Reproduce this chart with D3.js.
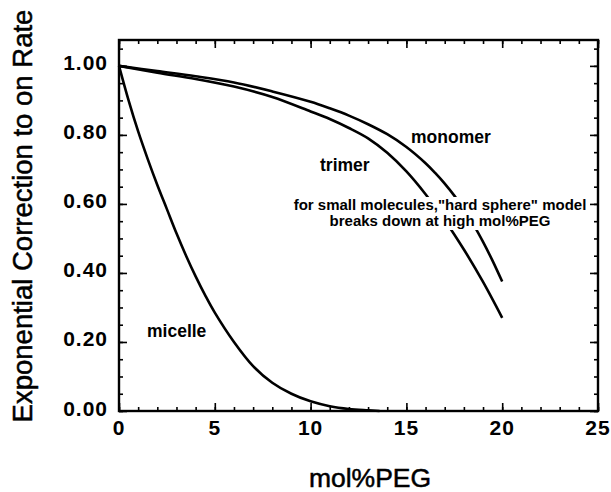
<!DOCTYPE html>
<html>
<head>
<meta charset="utf-8">
<script src="https://cdn.jsdelivr.net/npm/d3@7"></script>
<style>
  html, body { margin: 0; padding: 0; background: #fff; }
  svg { display: block; }
  text { font-family: "Liberation Sans", Arial, Helvetica, sans-serif; fill: #000; }
</style>
</head>
<body>
<svg id="chart" width="611" height="492"></svg>
<script>
// ---- data ----
const xTicks = [0, 5, 10, 15, 20, 25];
const yTicks = [0.0, 0.2, 0.4, 0.6, 0.8, 1.0];
const xMinor = d3.range(0, 25.001, 1);
const yMinor = d3.range(0, 1.0751, 0.05);

const monomerX = [0, 2, 4, 6, 8, 10, 11, 12, 13, 14, 15, 16, 16.5, 17, 17.5, 18, 18.5, 19, 19.5, 20];
const monomerY = [1.0, 0.985, 0.97, 0.952, 0.926, 0.896, 0.877, 0.856, 0.831, 0.802, 0.765, 0.718, 0.69, 0.659, 0.624, 0.584, 0.54, 0.49, 0.435, 0.375];

const trimerX = [0, 2, 4, 6, 8, 10, 11, 12, 13, 14, 15, 16, 17, 18, 19, 20];
const trimerY = [1.0, 0.98, 0.962, 0.94, 0.91, 0.868, 0.846, 0.82, 0.79, 0.748, 0.694, 0.628, 0.553, 0.468, 0.374, 0.27];

const micelleX = [0, 0.5, 1, 1.5, 2, 2.5, 3, 3.5, 4, 4.5, 5, 6, 7, 8, 9, 10, 11, 12, 13, 13.6];
const micelleY = [1.0, 0.9, 0.81, 0.73, 0.655, 0.585, 0.515, 0.45, 0.39, 0.335, 0.285, 0.2, 0.13, 0.082, 0.05, 0.028, 0.014, 0.006, 0.002, 0.0];

const seriesNames = ["monomer", "trimer", "micelle"];
const noteLines = ["for small molecules,\"hard sphere\" model", "breaks down at high mol%PEG"];
const xTitle = "mol%PEG";
const yTitle = "Exponential Correction to on Rate";

// ---- layout ----
const L = 119, R = 598, T = 40, B = 411;
const x = d3.scaleLinear().domain([0, 25]).range([L, R]);
const y = d3.scaleLinear().domain([0, 1.075]).range([B, T]);

const svg = d3.select("#chart");

const zip = (xs, ys) => xs.map((v, i) => [v, ys[i]]);
const series = [zip(monomerX, monomerY), zip(trimerX, trimerY), zip(micelleX, micelleY)];

const line = d3.line().x(d => x(d[0])).y(d => y(d[1])).curve(d3.curveCatmullRom.alpha(0.5));

svg.append("g").selectAll("path").data(series).join("path")
  .attr("d", line)
  .attr("fill", "none")
  .attr("stroke", "#000")
  .attr("stroke-width", 2.6)
  .attr("stroke-linejoin", "round");

// ---- axes (frame with inward ticks) ----
const tickStyle = g => g.call(s => s.select(".domain").remove())
  .call(s => s.selectAll("line").attr("stroke", "#000").attr("stroke-width", 1.6));

svg.append("g").attr("transform", `translate(0,${B})`)
  .call(d3.axisBottom(x).tickValues(xMinor).tickSize(-4).tickFormat(""))
  .call(tickStyle);
svg.append("g").attr("transform", `translate(0,${B})`)
  .call(d3.axisBottom(x).tickValues(xTicks).tickSize(-8).tickFormat(""))
  .call(tickStyle);
svg.append("g").attr("transform", `translate(0,${T})`)
  .call(d3.axisTop(x).tickValues(xMinor).tickSize(-4).tickFormat(""))
  .call(tickStyle);
svg.append("g").attr("transform", `translate(0,${T})`)
  .call(d3.axisTop(x).tickValues(xTicks).tickSize(-8).tickFormat(""))
  .call(tickStyle);
svg.append("g").attr("transform", `translate(${L},0)`)
  .call(d3.axisLeft(y).tickValues(yMinor).tickSize(-4).tickFormat(""))
  .call(tickStyle);
svg.append("g").attr("transform", `translate(${L},0)`)
  .call(d3.axisLeft(y).tickValues(yTicks).tickSize(-8).tickFormat(""))
  .call(tickStyle);
svg.append("g").attr("transform", `translate(${R},0)`)
  .call(d3.axisRight(y).tickValues(yMinor).tickSize(-4).tickFormat(""))
  .call(tickStyle);
svg.append("g").attr("transform", `translate(${R},0)`)
  .call(d3.axisRight(y).tickValues(yTicks).tickSize(-8).tickFormat(""))
  .call(tickStyle);

svg.append("rect")
  .attr("x", L).attr("y", T).attr("width", R - L).attr("height", B - T)
  .attr("fill", "none").attr("stroke", "#000").attr("stroke-width", 2.4);

// tick labels
svg.append("g").selectAll("text").data(xTicks).join("text")
  .attr("x", d => x(d)).attr("y", 435)
  .attr("text-anchor", "middle")
  .attr("font-size", 21).attr("font-weight", "bold").attr("letter-spacing", 1)
  .text(d => d3.format("d")(d));

svg.append("g").selectAll("text").data(yTicks).join("text")
  .attr("x", 108).attr("y", d => y(d) + 4.5)
  .attr("text-anchor", "end")
  .attr("font-size", 21).attr("font-weight", "bold").attr("letter-spacing", 1)
  .text(d => d3.format(".2f")(d));

// axis titles
svg.append("text")
  .attr("x", 370).attr("y", 487)
  .attr("text-anchor", "middle")
  .attr("font-size", 26.5)
  .attr("stroke", "#000").attr("stroke-width", 0.5)
  .text(xTitle);

svg.append("text")
  .attr("transform", "translate(32,216) rotate(-90)")
  .attr("text-anchor", "middle")
  .attr("font-size", 27.5)
  .attr("stroke", "#000").attr("stroke-width", 0.5)
  .text(yTitle);

// series labels
const labelPos = [[411, 143], [320, 171], [147, 337]];
svg.append("g").selectAll("text").data(seriesNames).join("text")
  .attr("x", (d, i) => labelPos[i][0]).attr("y", (d, i) => labelPos[i][1])
  .attr("font-size", 17.5).attr("font-weight", "bold")
  .text(d => d);

// note (masks the curves behind it)
svg.append("rect")
  .attr("x", 292).attr("y", 197).attr("width", 296).attr("height", 33)
  .attr("fill", "#fff");
svg.append("g").selectAll("text").data(noteLines).join("text")
  .attr("x", 440).attr("y", (d, i) => 210 + i * 16)
  .attr("text-anchor", "middle")
  .attr("font-size", 15).attr("font-weight", "bold")
  .text(d => d);
</script>
</body>
</html>
